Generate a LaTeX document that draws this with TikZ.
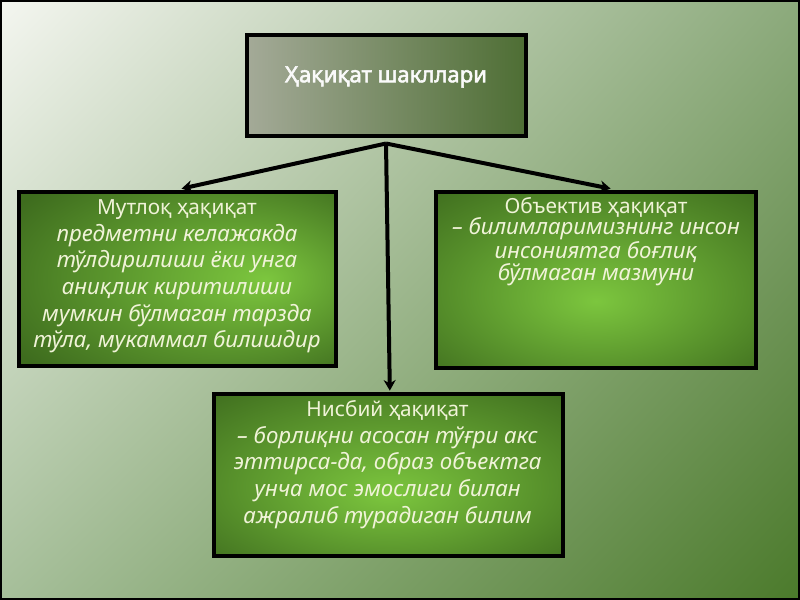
\documentclass[tikz,border=0pt]{standalone}
\usepackage{fontspec}
\setmainfont{Noto Sans}[AutoFakeBold=2.5]
\usetikzlibrary{arrows.meta,shadings}
\definecolor{txt}{HTML}{F0F3D8}
\definecolor{gIn}{HTML}{7CC63E}
\definecolor{gOut}{HTML}{3E6C1E}
\definecolor{bgUL}{HTML}{F4F6F0}
\definecolor{bgUR}{HTML}{8CAA7C}
\definecolor{bgLL}{HTML}{A6BF9A}
\definecolor{bgLR}{HTML}{4B7A2B}
\definecolor{tL}{HTML}{A4AA98}
\definecolor{tR}{HTML}{4E6E34}
\pgfdeclareradialshading{boxL}{\pgfpoint{14bp}{0bp}}{color(0bp)=(gIn); color(36bp)=(gOut); color(50bp)=(gOut)}
\pgfdeclareradialshading{boxC}{\pgfpoint{0bp}{-6bp}}{color(0bp)=(gIn); color(38bp)=(gOut); color(50bp)=(gOut)}
\tikzset{
  box/.style={draw=black, line width=3pt, inner sep=0pt},
  gbox/.style={box, shading=boxC},
  lbox/.style={box, shading=boxL},
  boxtext/.style={text=txt, align=center, inner sep=0pt, font=\fontsize{16.7pt}{20pt}\selectfont},
  conn/.style={line width=3pt, -{Stealth[length=8pt,width=9pt]}}
}
\begin{document}
\begin{tikzpicture}[x=0.75pt,y=-0.75pt]
\useasboundingbox (0,0) rectangle (800,600);
\shade[upper left=bgUL, upper right=bgUR, lower left=bgLL, lower right=bgLR]
  (0,0) rectangle (800,600);
\draw[line width=1.5pt] (1,1) rectangle (799,599);

\node[box, left color=tL, right color=tR,
      minimum width=279*0.75pt, minimum height=101*0.75pt] (T) at (386,85) {};
\node[text=white!96!gray, font=\fontsize{16.6pt}{17pt}\selectfont\bfseries] (Tt) at (386,77) {Ҳақиқат шакллари};

\node[lbox, minimum width=317*0.75pt, minimum height=174*0.75pt] (L) at (177.5,279) {};
\node[gbox, minimum width=320*0.75pt, minimum height=176*0.75pt] (R) at (596,280) {};
\node[gbox, minimum width=349*0.75pt, minimum height=162*0.75pt] (B) at (388.5,475) {};

\node[boxtext] (Lt) at (177,276.5) {{\fontsize{15.6pt}{20pt}\selectfont Мутлоқ ҳақиқат}\\ \itshape предметни келажакда\\ \itshape тўлдирилиши ёки унга\\ \itshape аниқлик киритилиши\\ \itshape мумкин бўлмаган тарзда\\ \itshape тўла, мукаммал билишдир};
\node[boxtext, font=\fontsize{16.7pt}{15.75pt}\selectfont] (Rt) at (596,242) {{\fontsize{15.6pt}{15.75pt}\selectfont Объектив ҳақиқат}\\ \itshape – билимларимизнинг инсон\\ \itshape инсониятга боғлиқ\\ \itshape бўлмаган мазмуни};
\node[boxtext] (Bt) at (387.5,464.5) {{\fontsize{15.6pt}{20pt}\selectfont Нисбий ҳақиқат}\\ \itshape – борлиқни асосан тўғри акс\\ \itshape эттирса-да, образ объектга\\ \itshape унча мос эмослиги билан\\ \itshape ажралиб турадиган билим};

\coordinate (j) at ([yshift=-4.5pt]T.south);
\draw[conn] (j) -- ([xshift=3pt,yshift=1pt]L.north);
\draw[conn] (j) -- ([xshift=11pt,yshift=1pt]R.north);
\draw[conn] (j) -- ([xshift=1pt,yshift=1pt]B.north);
\end{tikzpicture}
\end{document}
